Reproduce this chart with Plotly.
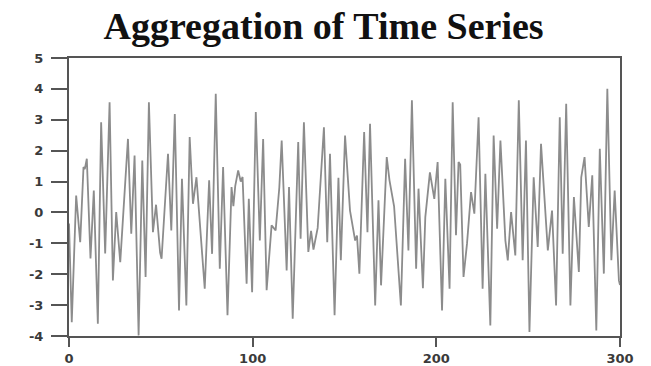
import plotly.graph_objects as go

# Time index and observed values of the series (turning points of the trace)
t = [0, 1.5, 3.9, 6.1, 7.9, 8.6, 9.7, 11.7, 13.5, 15.7, 17.5, 19.7, 22.1, 23.9,
     25.7, 27.9, 32.1, 33.9, 35.7, 37.9, 39.9, 41.7, 43.5, 45.7, 47.4, 49.6,
     50.4, 53.9, 55.7, 57.6, 59.9, 61.5, 63.9, 65.7, 67.5, 69.4, 73.9, 76.3,
     77.9, 79.9, 82.1, 83.9, 86.3, 88.5, 89.5, 90.5, 92.1, 93.5, 94.5, 96.7,
     97.9, 99.7, 101.7, 103.9, 105.7, 107.6, 110.3, 112.5, 114.5, 115.8, 118.5,
     119.8, 121.8, 124.8, 126.1, 127.9, 130.3, 131.8, 133.1, 135.4, 138.8,
     140.6, 142.1, 144.6, 146.7, 148.0, 150.3, 153.0, 155.8, 156.8, 158.1,
     160.7, 162.5, 163.9, 166.7, 168.5, 169.9, 173.0, 174.5, 177.0, 180.7,
     183.0, 184.8, 186.7, 189.0, 190.3, 192.7, 194.0, 196.5, 198.9, 200.7,
     203.1, 204.9, 207.2, 208.9, 210.7, 212.1, 213.0, 214.8, 216.7, 218.9,
     220.7, 223.0, 225.2, 226.7, 229.4, 231.2, 233.1, 234.9, 237.6, 238.9,
     240.7, 243.0, 244.9, 247.0, 248.8, 250.7, 253.0, 255.2, 257.0, 260.7,
     263.0, 265.2, 267.2, 268.8, 270.7, 273.0, 274.9, 277.6, 278.9, 280.7,
     283.0, 284.9, 287.1, 289.0, 291.2, 293.1, 295.3, 297.1, 299.4, 300]
values = [-0.36, -3.55, 0.55, -0.96, 1.47, 1.40, 1.74, -1.49, 0.71, -3.60, 2.92,
          -1.33, 3.57, -2.20, 0.01, -1.61, 2.38, -0.69, 1.84, -3.98, 1.68, -2.09,
          3.57, -0.64, 0.25, -1.30, -1.50, 1.90, -0.58, 3.19, -3.17, 1.09, -3.01,
          2.44, 0.28, 1.14, -2.47, 1.04, -1.34, 3.84, -1.82, 1.47, -3.33, 0.82,
          0.20, 0.85, 1.36, 1.00, 1.15, -2.31, 0.44, -2.58, 3.25, -0.91, 2.38,
          -2.52, -0.42, -0.58, 0.80, 2.33, -1.88, 0.82, -3.44, 2.28, -0.85, 2.92,
          -1.28, -0.60, -1.20, -0.50, 2.76, -0.96, 1.90, -3.33, 1.12, -1.55, 2.49,
          0.06, -0.91, -0.75, -1.98, 2.60, -0.64, 2.87, -3.01, 0.39, -2.36, 1.79,
          1.04, 0.20, -3.01, 1.74, -1.23, 3.63, -1.82, 0.77, -2.45, -0.15, 1.30,
          0.44, 1.63, -3.17, 1.09, -2.47, 3.57, -0.74, 1.63, 1.55, -2.09, -1.01,
          0.66, -0.04, 3.08, -2.47, 1.25, -3.66, 2.49, -0.53, 2.33, -0.91, -1.55,
          0.01, -1.39, 3.63, -1.55, 2.33, -3.87, 1.14, -1.12, 2.22, -1.23, 0.06,
          -3.01, 3.08, -1.34, 3.52, -3.01, 0.50, -1.93, 1.14, 1.79, -0.47, 1.20,
          -3.82, 2.06, -1.98, 4.00, -1.55, 0.71, -2.20, -2.35]

x_ticks = [0, 100, 200, 300]
y_ticks = [-4, -3, -2, -1, 0, 1, 2, 3, 4, 5]

fig = go.Figure(
    go.Scatter(x=t, y=values, mode="lines",
               line=dict(color="#8c8c8c", width=1.8), showlegend=False)
)

axis_font = dict(family="DejaVu Sans", size=13, color="#3a3a3a", weight="bold")

fig.update_layout(
    width=651, height=366,
    margin=dict(l=69, r=31, t=58, b=30),
    paper_bgcolor="white", plot_bgcolor="white",
    title=dict(text="Aggregation of Time Series", x=0.497, xanchor="center",
               y=0.93, yanchor="middle",
               font=dict(family="Liberation Serif", size=38, color="#111111",
                         weight="bold")),
    xaxis=dict(range=[0, 300], tickvals=x_ticks, ticktext=[str(v) for v in x_ticks],
               showgrid=False, zeroline=False, showline=True, mirror=True,
               linecolor="#555555", linewidth=2, ticks="outside", ticklen=9,
               tickwidth=2, tickcolor="#555555", tickfont=axis_font,
               ticklabelstandoff=0, automargin=False),
    yaxis=dict(range=[-4, 5], tickvals=y_ticks, ticktext=[str(v) for v in y_ticks],
               showgrid=False, zeroline=False, showline=True, mirror=True,
               linecolor="#555555", linewidth=2, ticks="outside", ticklen=16,
               tickwidth=2, tickcolor="#555555", tickfont=axis_font,
               ticklabelstandoff=5, automargin=False),
)

fig.write_html("out.html")
